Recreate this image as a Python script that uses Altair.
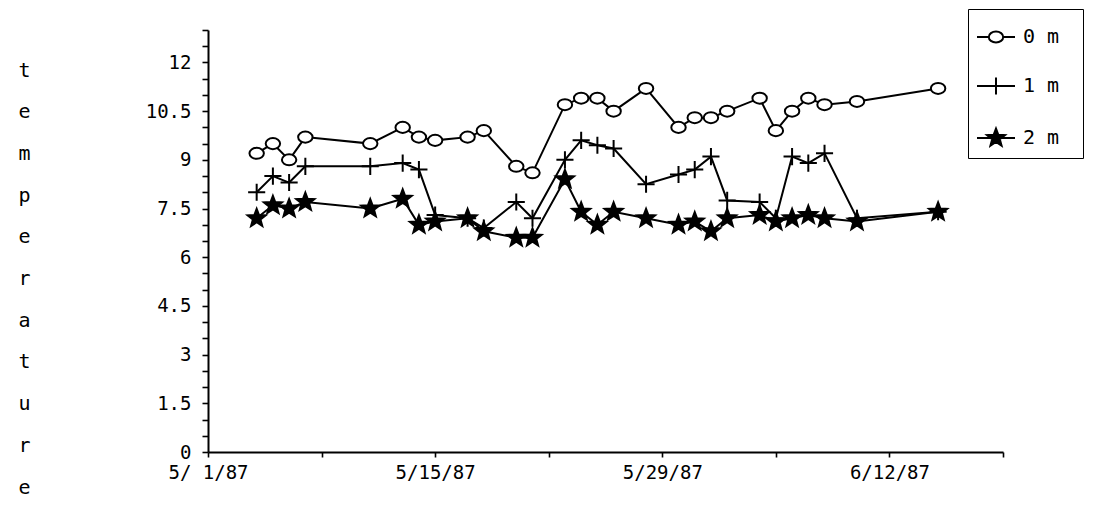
import altair as alt
import pandas as pd

# ---- data ----
dates = ["1987-05-04", "1987-05-05", "1987-05-06", "1987-05-07", "1987-05-11",
         "1987-05-13", "1987-05-14", "1987-05-15", "1987-05-17", "1987-05-18",
         "1987-05-20", "1987-05-21", "1987-05-23", "1987-05-24", "1987-05-25",
         "1987-05-26", "1987-05-28", "1987-05-30", "1987-05-31", "1987-06-01",
         "1987-06-02", "1987-06-04", "1987-06-05", "1987-06-06", "1987-06-07",
         "1987-06-08", "1987-06-10", "1987-06-15"]
temp_0m = [9.2, 9.5, 9.0, 9.7, 9.5, 10.0, 9.7, 9.6, 9.7, 9.9, 8.8, 8.6, 10.7, 10.9,
           10.9, 10.5, 11.2, 10.0, 10.3, 10.3, 10.5, 10.9, 9.9, 10.5, 10.9, 10.7,
           10.8, 11.2]
temp_1m = [8.0, 8.5, 8.3, 8.8, 8.8, 8.9, 8.7, 7.3, 7.2, 6.9, 7.7, 7.2, 9.0, 9.6,
           9.45, 9.35, 8.25, 8.55, 8.7, 9.1, 7.75, 7.7, 7.2, 9.1, 8.9, 9.2, 7.2, 7.4]
temp_2m = [7.2, 7.6, 7.5, 7.7, 7.5, 7.8, 7.0, 7.1, 7.2, 6.8, 6.6, 6.6, 8.4, 7.4,
           7.0, 7.4, 7.2, 7.0, 7.1, 6.8, 7.2, 7.3, 7.1, 7.2, 7.3, 7.2, 7.1, 7.4]
series = ["0 m", "1 m", "2 m"]
y_title = list("temperature")

rows = []
for name, vals in zip(series, [temp_0m, temp_1m, temp_2m]):
    for d, v in zip(dates, vals):
        rows.append({"date": d + "T00:00", "depth": name, "temp": v})
df = pd.DataFrame(rows)

FONT = "DejaVu Sans Mono"
SYM = 1444  # symbol box (38 px); marker paths drawn small inside it

ellipse = "M-0.38,0A0.38,0.29 0 1,0 0.38,0A0.38,0.29 0 1,0 -0.38,0Z"
plus = "M-0.45,0H0.45M0,-0.45V0.45"
star = ("M0,-0.5L0.124,-0.171L0.476,-0.155L0.201,0.065L0.294,0.405L0,0.211"
        "L-0.294,0.405L-0.201,0.065L-0.476,-0.155L-0.124,-0.171Z")
# legend keys: a line segment through the marker
key_ellipse = "M-1,0H-0.38M0.38,0H1" + ellipse
key_plus = "M-1,0H1M0,-0.45V0.45"
key_star = "M-1,0H1" + star

week_ticks = [alt.DateTime(year=1987, month=m, date=d) for m, d in
              [(5, 1), (5, 8), (5, 15), (5, 22), (5, 29), (6, 5), (6, 12), (6, 19)]]

x_enc = alt.X(
    "date:T",
    scale=alt.Scale(domain=[alt.DateTime(year=1987, month=5, date=1),
                            alt.DateTime(year=1987, month=6, date=19)], nice=False),
    axis=alt.Axis(
        title=None, values=week_ticks, labelFlush=False, labelOverlap=False,
        labelExpr="(round((datum.value - datetime(1987,4,1)) / 86400000) % 14 == 0) ? timeFormat(datum.value, '%-m/%e/%y') : ''",
        tickSize=5, labelPadding=6,
    ),
)
y_enc = alt.Y(
    "temp:Q",
    scale=alt.Scale(domain=[0, 13], nice=False, zero=True),
    axis=alt.Axis(
        values=[i * 0.5 for i in range(27)],
        labelExpr="(datum.value % 1.5 == 0) ? format(datum.value, '~g') : ''",
        tickSize=6, labelPadding=11,
        title=y_title, titleAngle=0, titleAlign="center", titleBaseline="top",
        titleX=-184, titleY=30, titleLineHeight=41.7, titleFont=FONT,
        titleFontSize=20, titleFontWeight="normal", titleColor="black",
    ),
)

lines = alt.Chart(df).mark_line(strokeWidth=2, color="black").encode(
    x=x_enc, y=y_enc, detail="depth:N",
)

points = alt.Chart(df).mark_point(size=SYM, strokeWidth=2, opacity=1).encode(
    x=x_enc, y=y_enc,
    shape=alt.Shape("depth:N", scale=alt.Scale(domain=series, range=[ellipse, plus, star]),
                    legend=None),
    fill=alt.Fill("depth:N", scale=alt.Scale(domain=series, range=["white", "white", "black"]),
                  legend=None),
    stroke=alt.Stroke("depth:N", scale=alt.Scale(domain=series, range=["black"] * 3),
                      legend=None),
)

# legend-only layer (no rows drawn); the braille blank keeps the box wide
key_legend = alt.Legend(
    title=None, orient="none", legendX=760, legendY=-21, padding=8,
    strokeColor="black", symbolSize=SYM, symbolStrokeWidth=2, symbolOpacity=1,
    labelFont=FONT, labelFontSize=20, labelColor="black", labelOffset=7,
    rowPadding=19, labelExpr="datum.label + '\u2800'",
)
keys = alt.Chart(df).transform_filter("false").mark_point(size=SYM, strokeWidth=2, opacity=1).encode(
    x=x_enc, y=y_enc,
    shape=alt.Shape("depth:N", scale=alt.Scale(domain=series, range=[key_ellipse, key_plus, key_star]),
                    legend=key_legend),
    fill=alt.Fill("depth:N", scale=alt.Scale(domain=series, range=["white", "white", "black"]),
                  legend=key_legend),
    stroke=alt.Stroke("depth:N", scale=alt.Scale(domain=series, range=["black"] * 3),
                      legend=key_legend),
)

chart = (
    alt.layer(lines, points, keys)
    .resolve_scale(shape="independent", fill="independent", stroke="independent")
    .properties(width=795, height=422, padding={"left": 9, "top": 0, "right": 0, "bottom": 5},
                background="white")
    .configure_view(stroke=None)
    .configure_axis(domainColor="black", domainWidth=2, tickColor="black", tickWidth=1.6,
                    labelFont=FONT, labelFontSize=19, labelColor="black", grid=False)
)

chart.save("out.html", embed_options={"renderer": "svg", "actions": False})
